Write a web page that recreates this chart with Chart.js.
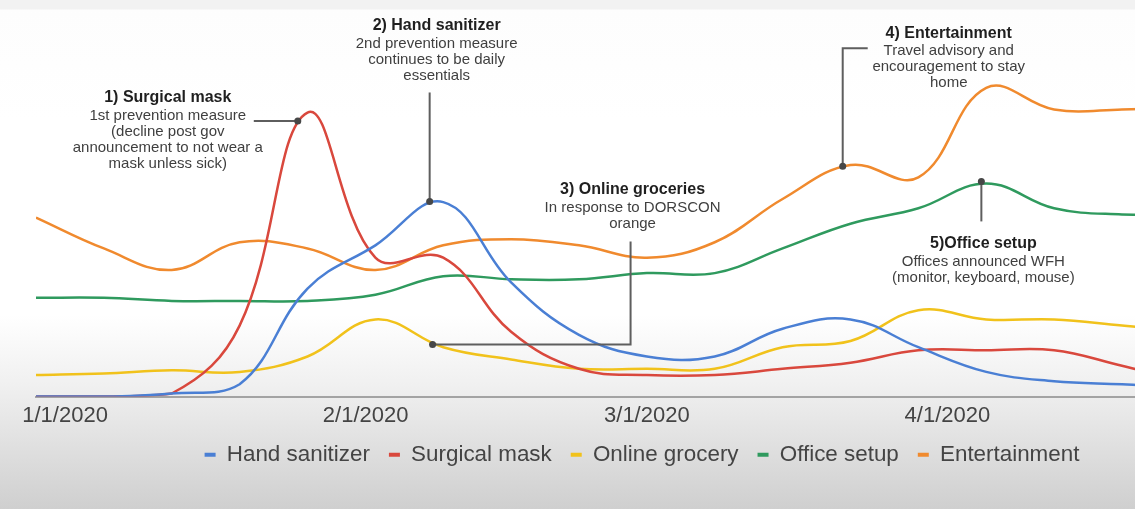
<!DOCTYPE html>
<html>
<head>
<meta charset="utf-8">
<title>Search interest, Jan–Apr 2020</title>
<script src="https://cdn.jsdelivr.net/npm/chart.js@4.4.1/dist/chart.umd.min.js"></script>
<style>
  html, body { margin: 0; padding: 0; overflow: hidden; }
  body {
    width: 1135px;
    height: 509px;
    background: linear-gradient(to bottom, #f2f2f2 0px, #f2f2f2 9px, #fdfdfd 10px, #ffffff 120px, #ffffff 315px, #f0f0f0 385px, #e0e0e0 445px, #cfcfcf 509px);
  }
  /* the chart runs on past the right edge, like the cropped original */
  #wrap { position: relative; width: 1248px; height: 509px; }
</style>
</head>
<body>
<div id="wrap"><canvas id="trendChart" width="1248" height="509"></canvas></div>
<script>
// ── weekly interest (week starting) ──
const weeks = [
  '2019-12-29', '2020-01-05', '2020-01-12', '2020-01-19', '2020-01-26',
  '2020-02-02', '2020-02-09', '2020-02-16', '2020-02-23', '2020-03-01',
  '2020-03-08', '2020-03-15', '2020-03-22', '2020-03-29', '2020-04-05',
  '2020-04-12', '2020-04-19', '2020-04-26', '2020-05-03'
];
const handSanitizer  = [0, 0, 1, 4, 35, 49, 63, 37, 20, 13, 13, 22, 25, 16, 8, 5, 4, 3, 3];
const surgicalMask   = [0, 0, 1, 23, 92, 45, 45, 21, 9, 7, 7, 9, 11, 15, 15, 15, 10, 5, 4];
const onlineGrocery  = [7, 7.5, 8.5, 8, 13, 25, 16, 12, 9, 9, 9, 16, 18, 28, 25, 25, 23, 21, 20];
const officeSetup    = [32, 32, 31, 31, 31, 33, 39, 38, 38, 40, 40, 48, 56, 61, 69, 61, 59, 59, 59];
const entertainment  = [58, 48, 41, 50, 48, 41, 49, 51, 49, 45, 50, 64, 75, 71, 100, 93, 93, 94, 95];

const tickDates  = ['2020-01-01', '2020-02-01', '2020-03-01', '2020-04-01'];
const tickLabels = ['1/1/2020', '2/1/2020', '3/1/2020', '4/1/2020'];

// days since 1/1/2020 (x axis is linear in days)
const DAY = 86400000;
const toDay = s => (Date.parse(s) - Date.parse('2020-01-01')) / DAY;

const FONT = '"Liberation Sans", Arial, sans-serif';

const seriesDefs = [
  { label: 'Hand sanitizer', values: handSanitizer, color: '#4a7fd4' },
  { label: 'Surgical mask',  values: surgicalMask,  color: '#d9483d' },
  { label: 'Online grocery', values: onlineGrocery, color: '#f1c21b' },
  { label: 'Office setup',   values: officeSetup,   color: '#2f9a5e' },
  { label: 'Entertainment',  values: entertainment, color: '#f08a2e' }
];

// callouts: anchor in data units [day, value], text offset and leader path in px from the dot
const notes = [
  { title: '1) Surgical mask',
    lines: ['1st prevention measure', '(decline post gov', 'announcement to not wear a', 'mask unless sick)'],
    at: [24.0, 89.3], text: [-130, -23], path: [[-44, 0]] },
  { title: '2) Hand sanitizer',
    lines: ['2nd prevention measure', 'continues to be daily', 'essentials'],
    at: [37.6, 63.2], text: [7, -176], path: [[0, -109]] },
  { title: '3) Online groceries',
    lines: ['In response to DORSCON', 'orange'],
    at: [37.9, 16.9], text: [200, -155], path: [[198, 0], [198, -103]] },
  { title: '4) Entertainment',
    lines: ['Travel advisory and', 'encouragement to stay', 'home'],
    at: [80.2, 74.6], text: [106, -133], path: [[0, -118], [25, -118]] },
  { title: '5)Office setup',
    lines: ['Offices announced WFH', '(monitor, keyboard, mouse)'],
    at: [94.5, 69.7], text: [2, 62], path: [[0, 40]] }
];

const calloutPlugin = {
  id: 'callouts',
  afterDatasetsDraw(chart) {
    const { ctx, scales: { x, y } } = chart;
    ctx.save();
    notes.forEach(n => {
      const px = x.getPixelForValue(n.at[0]);
      const py = y.getPixelForValue(n.at[1]);

      ctx.strokeStyle = '#5e5e5e';
      ctx.lineWidth = 2;
      ctx.beginPath();
      ctx.moveTo(px, py);
      n.path.forEach(([dx, dy]) => ctx.lineTo(px + dx, py + dy));
      ctx.stroke();

      ctx.fillStyle = '#474747';
      ctx.beginPath();
      ctx.arc(px, py, 3.5, 0, Math.PI * 2);
      ctx.fill();

      const tx = px + n.text[0];
      const ty = py + n.text[1];
      ctx.textAlign = 'center';
      ctx.textBaseline = 'middle';
      ctx.font = 'bold 16px ' + FONT;
      ctx.fillStyle = '#1f1f1f';
      ctx.fillText(n.title, tx, ty);
      ctx.font = '15px ' + FONT;
      ctx.fillStyle = '#3f3f3f';
      n.lines.forEach((line, i) => ctx.fillText(line, tx, ty + 18 + i * 16));
    });
    ctx.restore();
  }
};

const ctx = document.getElementById('trendChart').getContext('2d');
new Chart(ctx, {
  type: 'line',
  data: {
    datasets: seriesDefs.map(s => ({
      label: s.label,
      data: s.values.map((v, i) => ({ x: toDay(weeks[i]), y: v })),
      borderColor: s.color,
      backgroundColor: s.color,
      borderWidth: 2.5,
      pointRadius: 0,
      tension: 0.4,
      fill: false
    }))
  },
  options: {
    responsive: false,
    animation: false,
    devicePixelRatio: 1,
    layout: { padding: { top: 57, left: 36, right: 0, bottom: 33 } },
    plugins: {
      tooltip: { enabled: false },
      legend: {
        position: 'bottom',
        labels: {
          boxWidth: 11,
          boxHeight: 4,
          padding: 19,
          color: '#444',
          font: { family: FONT, size: 22.4 },
          generateLabels: chart =>
            Chart.defaults.plugins.legend.labels.generateLabels(chart).map(l => ({ ...l, lineWidth: 0 }))
        }
      }
    },
    scales: {
      x: {
        type: 'linear',
        min: toDay(weeks[0]),
        max: toDay('2020-05-02'),
        grid: { display: false, drawTicks: false },
        border: { display: true, color: '#a3a3a3', width: 2 },
        afterBuildTicks: scale => { scale.ticks = tickDates.map(d => ({ value: toDay(d) })); },
        afterFit: scale => { scale.height = 28; },
        ticks: {
          autoSkip: false,
          maxRotation: 0,
          padding: 6,
          color: '#444',
          font: { family: FONT, size: 22 },
          callback: v => tickLabels[tickDates.findIndex(d => toDay(d) === v)]
        }
      },
      y: {
        display: false,
        min: 0,
        max: 110
      }
    }
  },
  plugins: [calloutPlugin]
});
</script>
</body>
</html>
